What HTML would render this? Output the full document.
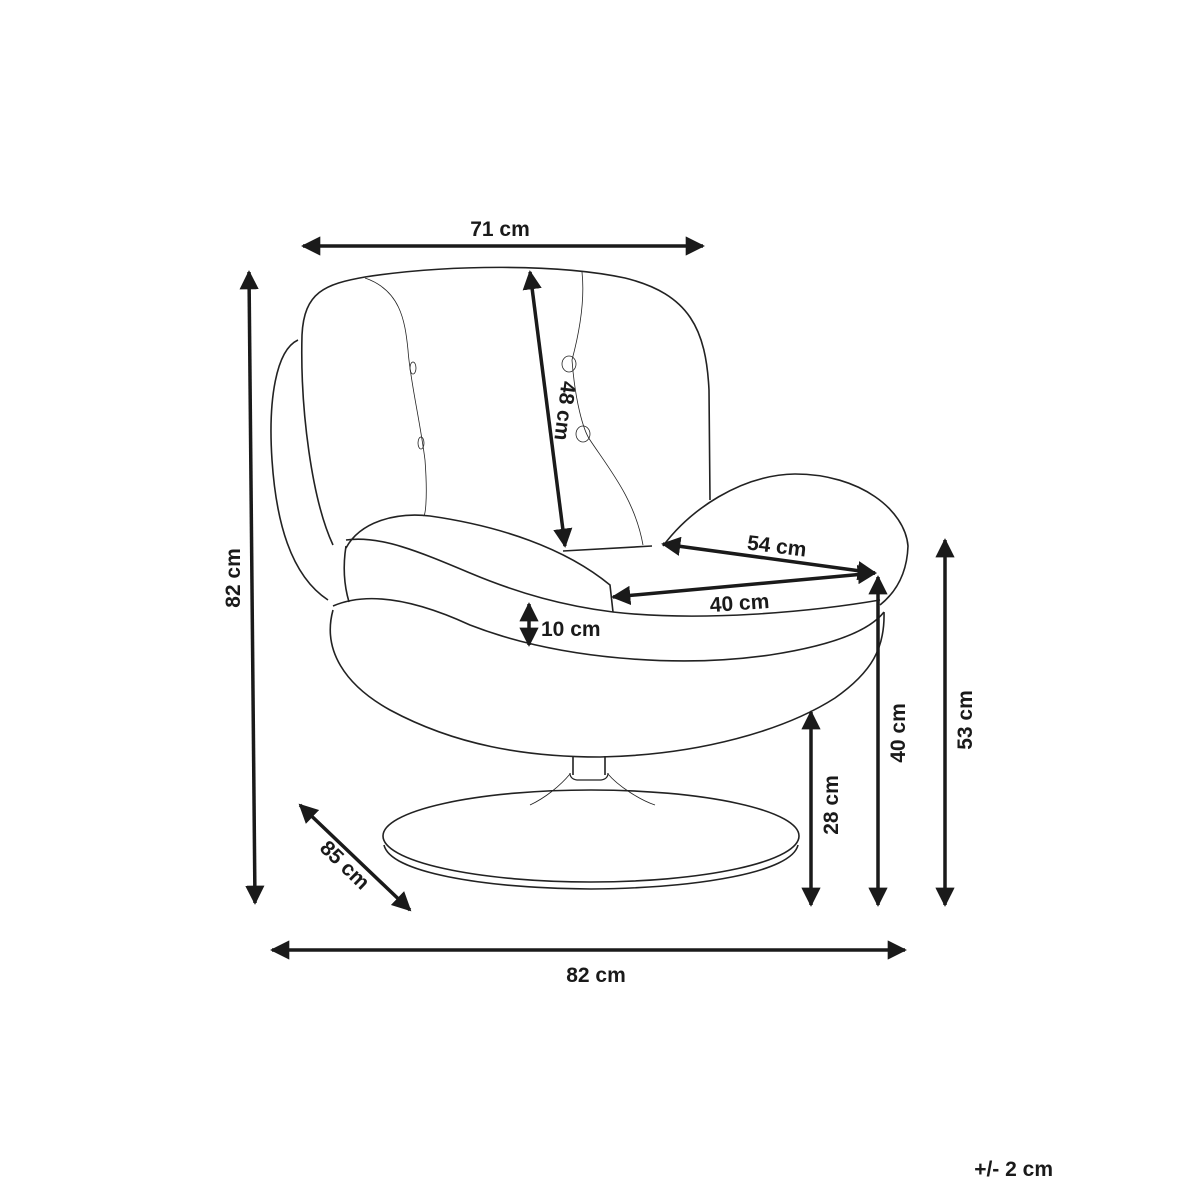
<!DOCTYPE html>
<html><head><meta charset="utf-8"><style>
html,body{margin:0;padding:0;background:#fff}
svg{display:block}
text{font-family:"Liberation Sans",sans-serif;font-weight:bold;font-size:21px;fill:#1a1a1a}
</style></head><body>
<svg width="1200" height="1200" viewBox="0 0 1200 1200" xmlns="http://www.w3.org/2000/svg">
<defs>
<marker id="a" viewBox="0 0 10 10" refX="9" refY="5" markerWidth="5.5" markerHeight="5.5" orient="auto-start-reverse"><path d="M0,0 L10,5 L0,10 z" fill="#1a1a1a"/></marker>
</defs>
<g fill="none" stroke="#222" stroke-width="1.6">
<path d="M333,545 C312,500 300,410 302,335 C304,292 325,284 365,277 C450,264 560,264 625,278 C690,294 706,330 709,390 L710,500"/>
<path d="M298,340 C276,350 268,400 272,460 C276,520 290,575 328,600"/>
<path d="M365,278 C400,290 405,320 408,350 C410,380 420,420 425,460 C428,500 425,520 423,515" stroke-width="0.8"/>
<path d="M582,272 C585,300 580,330 572,360 C575,400 583,430 590,440 C610,470 635,500 643,545" stroke-width="0.8"/>
<ellipse cx="569" cy="364" rx="7" ry="8" stroke-width="0.8"/>
<ellipse cx="583" cy="434" rx="7" ry="8" stroke-width="0.8"/>
<ellipse cx="413" cy="368" rx="3" ry="6" stroke-width="0.8"/>
<ellipse cx="421" cy="443" rx="3" ry="6" stroke-width="0.8"/>
<path d="M346,548 C360,522 395,512 430,516 C500,526 565,548 610,585 L613,612"/>
<path d="M346,540 C380,535 420,552 470,573 C520,594 565,606 613,612"/>
<path d="M346,546 C343,565 344,585 349,602"/>
<path d="M563,551 L652,546"/>
<path d="M663,546 C690,510 740,475 795,474 C860,474 905,510 908,546 C907,575 895,593 880,605"/>
<path d="M613,612 C700,622 810,612 880,600"/>
<path d="M333,606 C370,590 420,602 470,625 C560,660 680,668 770,655 C835,645 870,630 884,612"/>
<path d="M333,610 C322,650 345,685 390,710 C455,745 525,757 600,757 C700,755 785,730 835,698 C872,672 885,648 884,612"/>
<path d="M573,756 L573,775 M605,756 L605,775"/>
<path d="M570,773 Q570,779 577,780 L601,780 Q608,779 608,773" stroke-width="1.2"/>
<path d="M570,774 C560,786 545,798 530,805" stroke-width="0.8"/>
<path d="M608,774 C618,786 640,800 655,805" stroke-width="0.8"/>
<ellipse cx="591" cy="836" rx="208" ry="46"/>
<path d="M384,845 C390,872 480,888 591,889 C700,888 792,872 798,845" />
</g>
<g stroke="#1a1a1a" stroke-width="3.5" fill="none" marker-start="url(#a)" marker-end="url(#a)">
<line x1="303" y1="246" x2="703" y2="246"/>
<line x1="249" y1="272" x2="255" y2="903"/>
<line x1="530" y1="272" x2="565" y2="546"/>
<line x1="663" y1="544" x2="875" y2="573"/>
<line x1="613" y1="597" x2="875" y2="573"/>
<line x1="529" y1="604" x2="529" y2="645"/>
<line x1="878" y1="577" x2="878" y2="905"/>
<line x1="811" y1="712" x2="811" y2="905"/>
<line x1="945" y1="540" x2="945" y2="905"/>
<line x1="300" y1="805" x2="410" y2="910"/>
<line x1="272" y1="950" x2="905" y2="950"/>
</g>
<text x="500" y="236" text-anchor="middle">71 cm</text>
<text x="596" y="982" text-anchor="middle">82 cm</text>
<text transform="translate(240,578) rotate(-90)" text-anchor="middle">82 cm</text>
<text transform="translate(558,410) rotate(97)" text-anchor="middle">48 cm</text>
<text transform="translate(776,553) rotate(7)" text-anchor="middle">54 cm</text>
<text transform="translate(740,610) rotate(-4)" text-anchor="middle">40 cm</text>
<text x="541" y="636">10 cm</text>
<text transform="translate(905,733) rotate(-90)" text-anchor="middle">40 cm</text>
<text transform="translate(838,805) rotate(-90)" text-anchor="middle">28 cm</text>
<text transform="translate(972,720) rotate(-90)" text-anchor="middle">53 cm</text>
<text transform="translate(340,870) rotate(44)" text-anchor="middle">85 cm</text>
<text x="1053" y="1176" text-anchor="end">+/- 2 cm</text>
</svg>
</body></html>
